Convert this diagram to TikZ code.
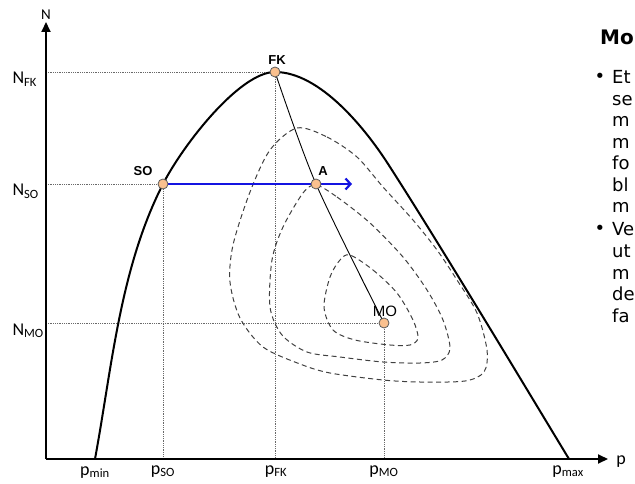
\documentclass[tikz,border=0pt]{standalone}
\usepackage{fontspec}
\setmainfont{Carlito}
\newfontfamily\tagfont{Liberation Sans}
\newfontfamily\slidefont{DejaVu Sans}
\usetikzlibrary{arrows.meta}
\definecolor{peach}{RGB}{250,192,142}
\definecolor{guidegray}{RGB}{105,105,105}
\definecolor{flowblue}{RGB}{20,20,225}

\begin{document}
\begin{tikzpicture}[x=1pt, y=-1pt,
  axis/.style={line width=2pt, -{Triangle[length=10pt,width=9pt]}},
  guide/.style={densely dotted, line width=0.8pt, guidegray},
  level/.style={dash pattern=on 5pt off 3.5pt, line width=1pt, black!75},
  pt/.style={circle, draw=black!65, fill=peach, line width=0.8pt, inner sep=0pt, minimum size=10pt},
  tag/.style={font=\tagfont\bfseries\fontsize{13}{13}\selectfont},
  axlab/.style={font=\fontsize{18}{18}\selectfont, anchor=base},
  slide/.style={font=\slidefont\fontsize{18}{18}\selectfont, anchor=base west, inner sep=0pt}]

  \useasboundingbox (0,0) rectangle (635,484);
  \clip (0,0) rectangle (635,484);

  % punkty charakterystyczne
  \coordinate (O) at (46,459);
  \coordinate (pmin) at (95,459);
  \coordinate (pmax) at (569,459);
  \coordinate (SO) at (163,184);
  \coordinate (FK) at (275,72);
  \coordinate (Q) at (390,167);
  \coordinate (A) at (316,184);
  \coordinate (MO) at (384,323);
  \coordinate (Aend) at (352,184);
  \coordinate (NFK) at (46,72);
  \coordinate (NSO) at (46,184);
  \coordinate (NMO) at (46,323);
  \coordinate (pSO) at (163,459);
  \coordinate (pFK) at (275,459);
  \coordinate (pMO) at (384,459);

  % linie pomocnicze
  \draw[guide] (NFK) -- (FK) -- (pFK);
  \draw[guide] (NSO) -- (SO) -- (pSO);
  \draw[guide] (NMO) -- (MO) -- (pMO);

  % izolinie
  \draw[level] plot[smooth cycle] coordinates {(297,128) (327,137) (357,157) (383,187) (413,220) (437,250)
    (457,280) (477,313) (487,350) (484,372) (465,381) (420,382) (383,380) (330,373) (300,364)
    (263,347) (240,318) (230,282) (233,245) (250,192) (270,150)};
  \draw[level] plot[smooth cycle] coordinates {(316,185) (337,197) (370,223) (403,257) (427,290)
    (443,320) (450,348) (442,360) (420,363) (383,362) (340,357) (307,352) (282,335) (270,307)
    (272,260) (283,227) (303,193)};
  \draw[level] plot[smooth cycle] coordinates {(350,255) (373,270) (397,293) (413,320) (418,338)
    (410,345) (390,345) (355,340) (333,330) (324,307) (330,277) (340,260)};

  % krzywa
  \draw[line width=2pt] (pmin) .. controls (112,367) and (120,268) .. (SO)
    .. controls (183.5,144) and (240,72) .. (FK)
    .. controls (320,72) and (366,129) .. (Q)
    .. controls (444,251) and (538,408) .. (pmax);
  \draw[line width=0.9pt] plot[smooth] coordinates {(FK) (A) (MO)};

  % osie
  \draw[axis] (O) -- (46,22) node[above=-2pt, font=\fontsize{15}{15}\selectfont] (Nax) {N};
  \draw[axis] (O) -- (608,459);
  \node[axlab] (pax) at (621,464) {p};

  \draw[flowblue, line width=2.2pt, -{Straight Barb[length=5pt,width=11pt]}] (SO) -- (Aend);

  \node[pt] (SOdot) at (SO) {};
  \node[pt] (FKdot) at (FK) {};
  \node[pt] (Adot) at (A) {};
  \node[pt] (MOdot) at (MO) {};

  \node[tag] (SOtag) at (143,171) {SO};
  \node[tag] (FKtag) at (277,60) {FK};
  \node[tag] (Atag) at (323,171) {A};
  \node[font=\tagfont\fontsize{15}{15}\selectfont] (MOtag) at (385,311) {MO};

  \node[axlab, anchor=base west] (NFKlab) at (9,84) {N\textsubscript{FK}};
  \node[axlab, anchor=base west] (NSOlab) at (9,196) {N\textsubscript{SO}};
  \node[axlab, anchor=base west] (NMOlab) at (9,335) {N\textsubscript{MO}};

  \node[axlab] (pminlab) at (95,475) {p\textsubscript{min}};
  \node[axlab] (pSOlab) at (163,474) {p\textsubscript{SO}};
  \node[axlab] (pFKlab) at (276,474) {p\textsubscript{FK}};
  \node[axlab] (pMOlab) at (384,474) {p\textsubscript{MO}};
  \node[axlab] (pmaxlab) at (568,474) {p\textsubscript{max}};

  % tekst slajdu
  \node[slide, font=\slidefont\bfseries\fontsize{20}{20}\selectfont] (title) at (600,45) {Mo};
  \node[font=\slidefont\fontsize{18}{18}\selectfont] (bul1) at (600,78) {\textbullet};
  \node[font=\slidefont\fontsize{18}{18}\selectfont] (bul2) at (600,230) {\textbullet};
  \foreach \w [count=\i from 0] in {Et,se,m,m,fo,bl,m}
    \node[slide] (ta\i) at (612,{84+21.5*\i}) {\w};
  \foreach \w [count=\i from 0] in {Ve,ut,m,de,fa}
    \node[slide] (tb\i) at (612,{236+21.5*\i}) {\w};
\end{tikzpicture}
\end{document}
